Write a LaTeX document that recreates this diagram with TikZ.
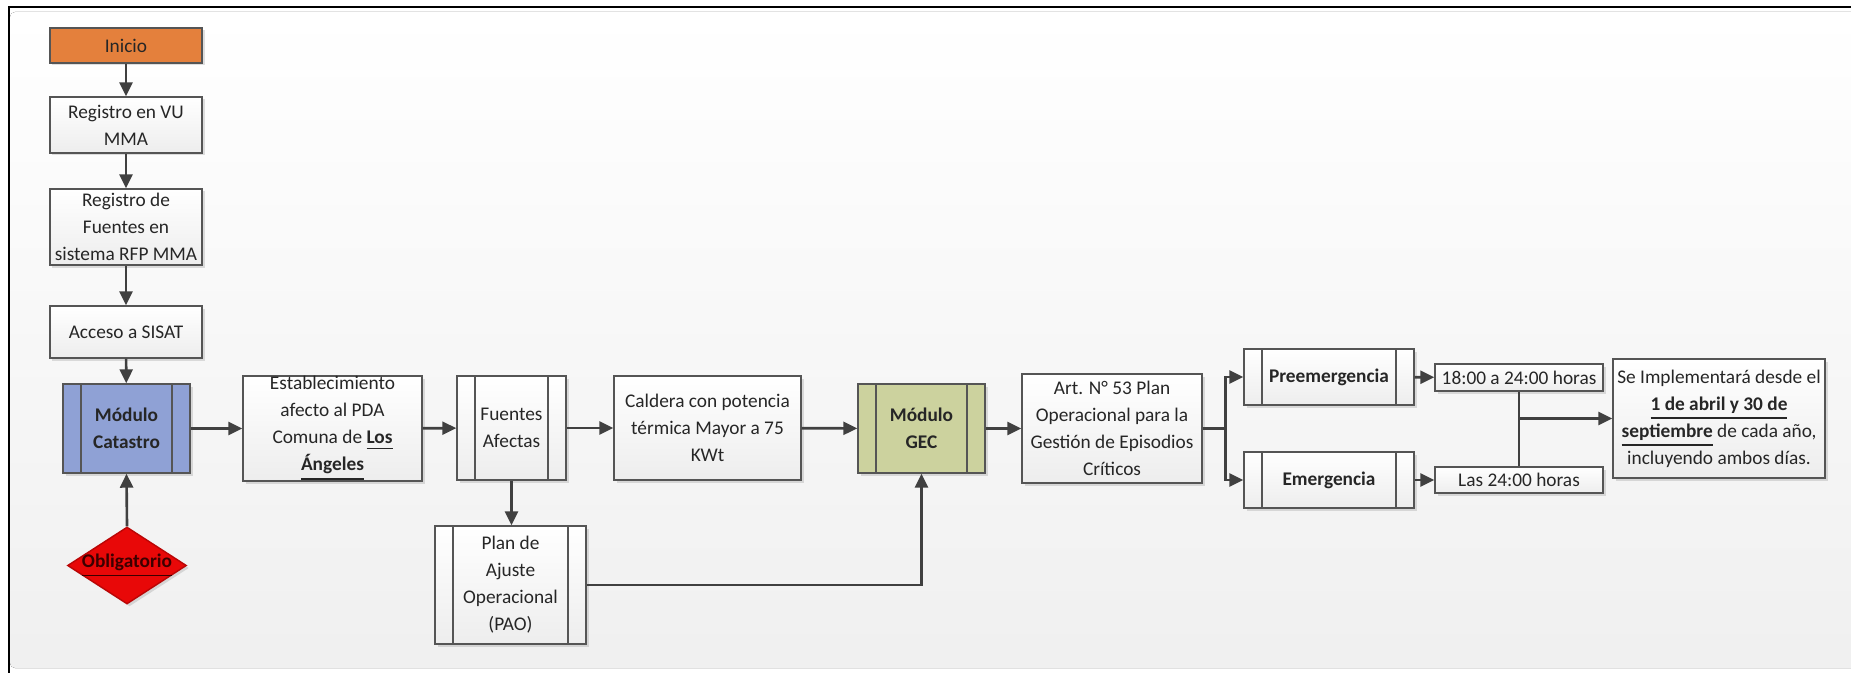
\documentclass[tikz,border=0pt]{standalone}
\usepackage{fontspec}
\setmainfont{Carlito}
\usetikzlibrary{arrows.meta,shapes.geometric,shadows}

\definecolor{inicioorange}{RGB}{228,128,60}
\definecolor{catblue}{RGB}{143,161,213}
\definecolor{gecgreen}{RGB}{204,210,158}
\definecolor{obred}{RGB}{232,8,8}
\definecolor{obtext}{RGB}{60,0,0}
\definecolor{linegray}{RGB}{64,64,64}
\definecolor{edgegray}{RGB}{85,85,85}

\tikzset{
  base/.style={draw=edgegray, line width=0.4pt, align=center, inner sep=0pt,
    font=\fontsize{5.5}{7.7}\selectfont, text=black!85,
    drop shadow={shadow xshift=0.025cm, shadow yshift=-0.025cm, opacity=0.25}},
  caja/.style={base, top color=white, bottom color=black!7},
  lados/.style={path picture={
    \draw[edgegray, line width=0.4pt]
      ([xshift=0.18cm]path picture bounding box.south west) -- ([xshift=0.18cm]path picture bounding box.north west)
      ([xshift=-0.18cm]path picture bounding box.south east) -- ([xshift=-0.18cm]path picture bounding box.north east);}},
  flecha/.style={-{Triangle[length=0.14cm,width=0.13cm]}, linegray, line width=0.75pt},
  linea/.style={linegray, line width=0.75pt}
}

\begin{document}
\begin{tikzpicture}

        \useasboundingbox (0,0) rectangle (18.51,-6.73);

        % Fondo y marco
        \fill[top color=white, bottom color=black!6, rounded corners=0.05cm] (0.10,-0.12) rectangle (18.60,-6.68);
        \draw[black, line width=0.02cm] (0.085,-6.73) -- (0.085,-0.07) -- (18.51,-0.07);

        % Columna de la izquierda
        \node[base, fill=inicioorange, minimum width=1.52cm, minimum height=0.35cm] (inicio) at (1.26,-0.455) {Inicio};
        \node[caja, minimum width=1.52cm, minimum height=0.56cm] (vu) at (1.26,-1.25) {Registro en VU\\MMA};
        \node[caja, minimum width=1.52cm, minimum height=0.76cm] (rfp) at (1.26,-2.27) {Registro de\\Fuentes en\\sistema RFP MMA};
        \node[caja, minimum width=1.52cm, minimum height=0.52cm] (sisat) at (1.26,-3.32) {Acceso a SISAT};
        \node[base, lados, fill=catblue, minimum width=1.27cm, minimum height=0.89cm] (catastro) at (1.265,-4.285) {\textbf{Módulo}\\\textbf{Catastro}};
        \node[base, diamond, fill=obred, draw=obred!80!black, minimum width=1.19cm, minimum height=0.77cm,
              label={[font=\fontsize{5.5}{7.7}\selectfont, text=obtext]center:\textbf{\underline{Obligatorio}}}] (obl) at (1.27,-5.655) {};

        % Fila central
        \node[caja, minimum width=1.79cm, minimum height=1.05cm] (estab) at (3.325,-4.285) {Establecimiento\\afecto al PDA\\Comuna de \textbf{\underline{Los}}\\\textbf{\underline{Ángeles}}};
        \node[caja, lados, minimum width=1.09cm, minimum height=1.04cm] (fuentes) at (5.115,-4.28) {Fuentes\\Afectas};
        \node[caja, lados, minimum width=1.51cm, minimum height=1.18cm] (pao) at (5.105,-5.85) {Plan de\\Ajuste\\Operacional\\(PAO)};
        \node[caja, minimum width=1.87cm, minimum height=1.04cm] (caldera) at (7.075,-4.28) {Caldera con potencia\\térmica Mayor a 75\\KWt};
        \node[base, lados, fill=gecgreen, minimum width=1.27cm, minimum height=0.89cm] (gec) at (9.215,-4.285) {\textbf{Módulo}\\\textbf{GEC}};
        \node[caja, minimum width=1.80cm, minimum height=1.09cm] (art) at (11.12,-4.285) {Art. N° 53 Plan\\Operacional para la\\Gestión de Episodios\\Críticos};

        % Episodios
        \node[caja, lados, minimum width=1.70cm, minimum height=0.56cm] (pre) at (13.29,-3.77) {\textbf{Preemergencia}};
        \node[caja, lados, minimum width=1.70cm, minimum height=0.56cm] (eme) at (13.29,-4.80) {\textbf{Emergencia}};
        \node[caja, minimum width=1.68cm, minimum height=0.27cm] (h18) at (15.19,-3.775) {18:00 a 24:00 horas};
        \node[caja, minimum width=1.68cm, minimum height=0.26cm] (h24) at (15.19,-4.80) {Las 24:00 horas};
        \node[caja, minimum width=2.12cm, minimum height=1.19cm] (impl) at (17.19,-4.185) {Se Implementará desde el\\\textbf{\underline{1 de abril y 30 de}}\\\textbf{\underline{septiembre}} de cada año,\\incluyendo ambos días.};

        % Conectores
        \draw[flecha] (inicio) -- (vu);
        \draw[flecha] (vu) -- (rfp);
        \draw[flecha] (rfp) -- (sisat);
        \draw[flecha] (sisat) -- (catastro);
        \draw[flecha] (obl.north) -- (catastro.south);
        \draw[flecha] (catastro) -- (estab);
        \draw[flecha] (estab) -- (fuentes);
        \draw[flecha] (fuentes) -- (caldera);
        \draw[flecha] (fuentes.south) -- (fuentes.south |- pao.north);
        \draw[flecha] (caldera) -- (gec);
        \draw[flecha] (pao.east) -| (gec.south);
        \draw[flecha] (gec) -- (art);
        \draw[flecha] (art.east) -- ++(0.23,0) |- (pre.west);
        \draw[flecha] (art.east) -- ++(0.23,0) |- (eme.west);
        \draw[flecha] (pre) -- (h18);
        \draw[flecha] (eme) -- (h24);
        \draw[linea] (h18.south) -- (h24.north);
        \draw[flecha] (h18.south |- impl.west) -- (impl.west);

\end{tikzpicture}
\end{document}
